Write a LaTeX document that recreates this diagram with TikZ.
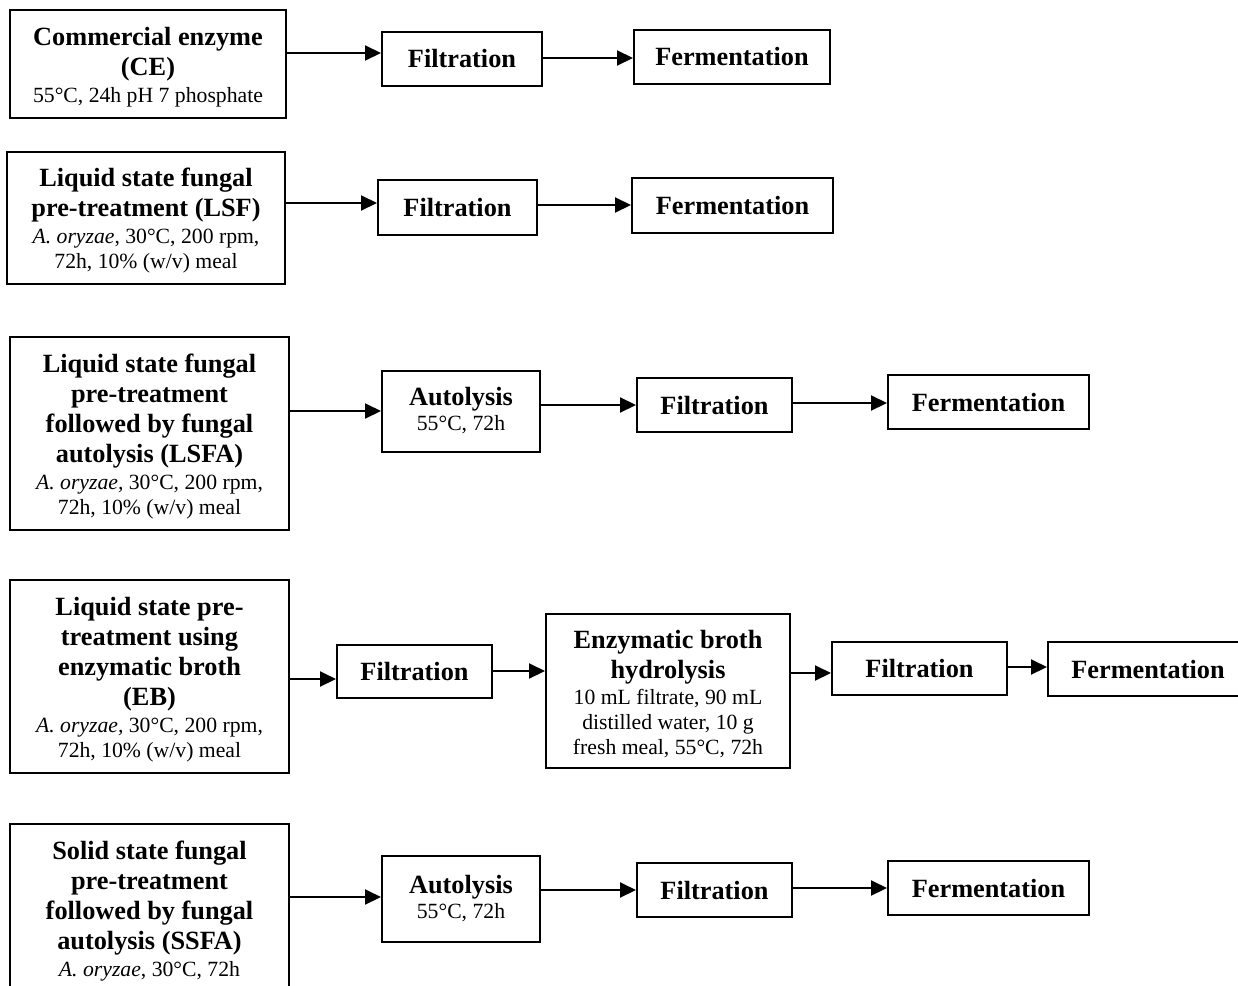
\documentclass[tikz,border=0pt]{standalone}
\usepackage{fontspec}
\setmainfont{Liberation Serif}
\usetikzlibrary{arrows.meta}
\newcommand{\condtxt}[1]{{\fontsize{21.7}{25}\selectfont\mdseries #1}}
\newcommand{\topgap}{\rule{0pt}{24.5pt}}

\begin{document}
\begin{tikzpicture}[x=1pt,y=-1pt,line join=miter,
  stage/.style={draw,line width=2pt,align=center,inner sep=0pt,font=\fontsize{26.3}{30}\selectfont\bfseries},
  flow/.style={line width=2pt,-{Triangle[length=16pt,width=15pt]}}]
  \useasboundingbox (0,0) rectangle (1238,985);
  \clip (0,0) rectangle (1238,985);
  % 第一行：商业酶 CE
  \node[stage,minimum width=276,minimum height=108] (ce) at (148,64) {\topgap Commercial enzyme\\(CE)\\[-3pt]\condtxt{55°C, 24h pH 7 phosphate}};
  \node[stage,minimum width=160,minimum height=54] (filA) at (462,59) {Filtration};
  \node[stage,minimum width=196,minimum height=54] (ferA) at (732,57) {Fermentation};
  \draw[flow] (ce.east |- 0,53) -- (filA.west |- 0,53);
  \draw[flow] (filA.east |- 0,58) -- (ferA.west |- 0,58);
  % 第二行：LSF
  \node[stage,minimum width=278,minimum height=132] (lsf) at (146,218) {\topgap Liquid state fungal\\pre-treatment (LSF)\\[-3pt]\condtxt{\textit{A. oryzae}, 30°C, 200 rpm,}\\[-5pt]\condtxt{72h, 10\% (w/v) meal}};
  \node[stage,minimum width=159,minimum height=55] (filB) at (457.5,207.5) {Filtration};
  \node[stage,minimum width=201,minimum height=55] (ferB) at (732.5,205.5) {Fermentation};
  \draw[flow] (lsf.east |- 0,203) -- (filB.west |- 0,203);
  \draw[flow] (filB.east |- 0,205) -- (ferB.west |- 0,205);
  % 第三行：LSFA
  \node[stage,minimum width=279,minimum height=193] (lsfa) at (149.5,433.5) {\topgap Liquid state fungal\\pre-treatment\\followed by fungal\\autolysis (LSFA)\\[-3pt]\condtxt{\textit{A. oryzae,} 30°C, 200 rpm,}\\[-5pt]\condtxt{72h, 10\% (w/v) meal}};
  \node[stage,minimum width=158,minimum height=81] (autC) at (461,411) {Autolysis\\[-5pt]\condtxt{55°C, 72h}};
  \node[stage,minimum width=155,minimum height=54] (filC) at (714.5,405) {Filtration};
  \node[stage,minimum width=201,minimum height=54] (ferC) at (988.5,402) {Fermentation};
  \draw[flow] (lsfa.east |- 0,411) -- (autC.west |- 0,411);
  \draw[flow] (autC.east |- 0,405) -- (filC.west |- 0,405);
  \draw[flow] (filC.east |- 0,403) -- (ferC.west |- 0,403);
  % 第四行：EB
  \node[stage,minimum width=279,minimum height=193] (eb) at (149.5,676.5) {\topgap Liquid state pre-\\treatment using\\enzymatic broth\\(EB)\\[-3pt]\condtxt{\textit{A. oryzae,} 30°C, 200 rpm,}\\[-5pt]\condtxt{72h, 10\% (w/v) meal}};
  \node[stage,minimum width=155,minimum height=53] (filD) at (414.5,671.5) {Filtration};
  \node[stage,minimum width=244,minimum height=154] (ebh) at (668,691) {\topgap Enzymatic broth\\hydrolysis\\[-4pt]\condtxt{10 mL filtrate, 90 mL}\\[-5pt]\condtxt{distilled water, 10 g}\\[-5pt]\condtxt{fresh meal, 55°C, 72h}};
  \node[stage,minimum width=175,minimum height=53] (filE) at (919.5,668.5) {Filtration};
  \node[stage,minimum width=200,minimum height=54] (ferD) at (1148,669) {Fermentation};
  \draw[flow] (eb.east |- 0,679) -- (filD.west |- 0,679);
  \draw[flow] (filD.east |- 0,671) -- (ebh.west |- 0,671);
  \draw[flow] (ebh.east |- 0,673) -- (filE.west |- 0,673);
  \draw[flow] (filE.east |- 0,667) -- (ferD.west |- 0,667);
  % 第五行：SSFA（下边被裁掉）
  \node[stage,minimum width=279,inner ysep=11pt,anchor=north] (ssfa) at (149.5,823) {\topgap Solid state fungal\\pre-treatment\\followed by fungal\\autolysis (SSFA)\\[-3pt]\condtxt{\textit{A. oryzae}, 30°C, 72h}};
  \node[stage,minimum width=158,minimum height=86] (autE) at (461,899) {Autolysis\\[-5pt]\condtxt{55°C, 72h}};
  \node[stage,minimum width=155,minimum height=54] (filF) at (714.5,890) {Filtration};
  \node[stage,minimum width=201,minimum height=54] (ferF) at (988.5,888) {Fermentation};
  \draw[flow] (ssfa.east |- 0,897) -- (autE.west |- 0,897);
  \draw[flow] (autE.east |- 0,890) -- (filF.west |- 0,890);
  \draw[flow] (filF.east |- 0,888) -- (ferF.west |- 0,888);
\end{tikzpicture}
\end{document}
